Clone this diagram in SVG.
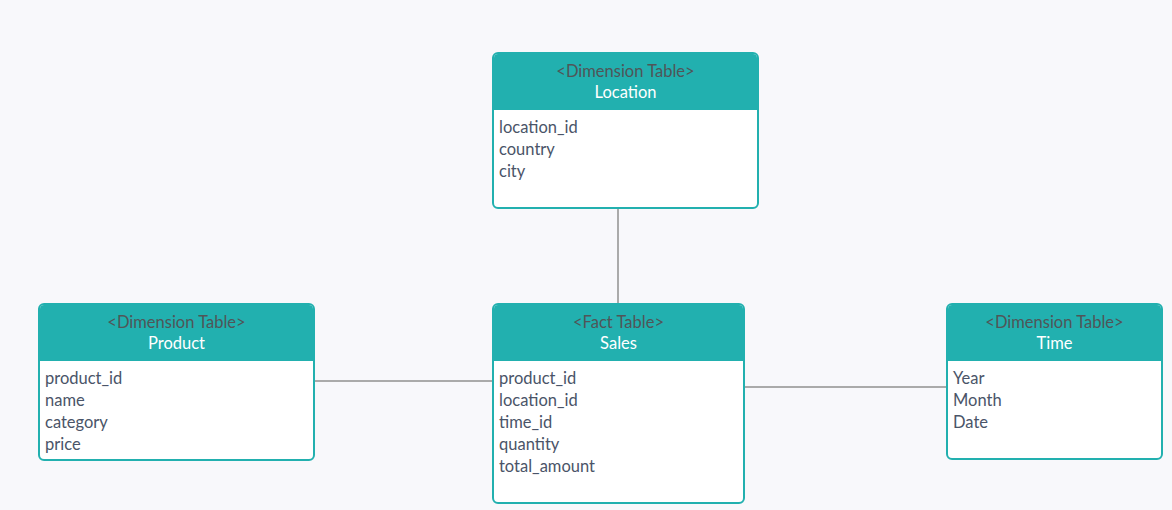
<svg xmlns="http://www.w3.org/2000/svg" width="1172" height="510" viewBox="0 0 1172 510">
<style>
.bg{fill:#f8f8fb}
.box{fill:#ffffff;stroke:#22b0af;stroke-width:2}
.hdr{fill:#22b0af}
.st{font-family:Lato,"Open Sans",sans-serif;font-size:16.5px;fill:#505558;text-anchor:middle}
.tt{font-family:Lato,"Open Sans",sans-serif;font-size:16.5px;fill:#ffffff;text-anchor:middle}
.f{font-family:Lato,"Open Sans",sans-serif;font-size:16.5px;fill:#4a5468}
.c{stroke:#aaaaaa;stroke-width:2;fill:none}
</style>
<rect class="bg" x="0" y="0" width="1172" height="510"/>
<g id="connectors">
<line class="c" x1="618" y1="208" x2="618" y2="304"/>
<line class="c" x1="314" y1="381" x2="493" y2="381"/>
<line class="c" x1="744" y1="387" x2="947" y2="387"/>
</g>
<g id="location">
<rect class="box" x="493" y="53" width="265" height="155" rx="5"/>
<path class="hdr" d="M498,54 H753 A4,4 0 0 1 757,58 V110 H494 V58 A4,4 0 0 1 498,54 Z"/>
<text class="st" x="625.5" y="77">&lt;Dimension Table&gt;</text>
<text class="tt" x="625.5" y="98">Location</text>
<text class="f" x="499" y="133">location_id</text>
<text class="f" x="499" y="155">country</text>
<text class="f" x="499" y="177">city</text>
</g>
<g id="product">
<rect class="box" x="39" y="304" width="275" height="156" rx="5"/>
<path class="hdr" d="M44,305 H309 A4,4 0 0 1 313,309 V361 H40 V309 A4,4 0 0 1 44,305 Z"/>
<text class="st" x="176.5" y="328">&lt;Dimension Table&gt;</text>
<text class="tt" x="176.5" y="349">Product</text>
<text class="f" x="45" y="384">product_id</text>
<text class="f" x="45" y="406">name</text>
<text class="f" x="45" y="428">category</text>
<text class="f" x="45" y="450">price</text>
</g>
<g id="sales">
<rect class="box" x="493" y="304" width="251" height="199" rx="5"/>
<path class="hdr" d="M498,305 H739 A4,4 0 0 1 743,309 V361 H494 V309 A4,4 0 0 1 498,305 Z"/>
<text class="st" x="618.5" y="328">&lt;Fact Table&gt;</text>
<text class="tt" x="618.5" y="349">Sales</text>
<text class="f" x="499" y="384">product_id</text>
<text class="f" x="499" y="406">location_id</text>
<text class="f" x="499" y="428">time_id</text>
<text class="f" x="499" y="450">quantity</text>
<text class="f" x="499" y="472">total_amount</text>
</g>
<g id="time">
<rect class="box" x="947" y="304" width="215" height="155" rx="5"/>
<path class="hdr" d="M952,305 H1157 A4,4 0 0 1 1161,309 V361 H948 V309 A4,4 0 0 1 952,305 Z"/>
<text class="st" x="1054.5" y="328">&lt;Dimension Table&gt;</text>
<text class="tt" x="1054.5" y="349">Time</text>
<text class="f" x="953" y="384">Year</text>
<text class="f" x="953" y="406">Month</text>
<text class="f" x="953" y="428">Date</text>
</g>
</svg>
